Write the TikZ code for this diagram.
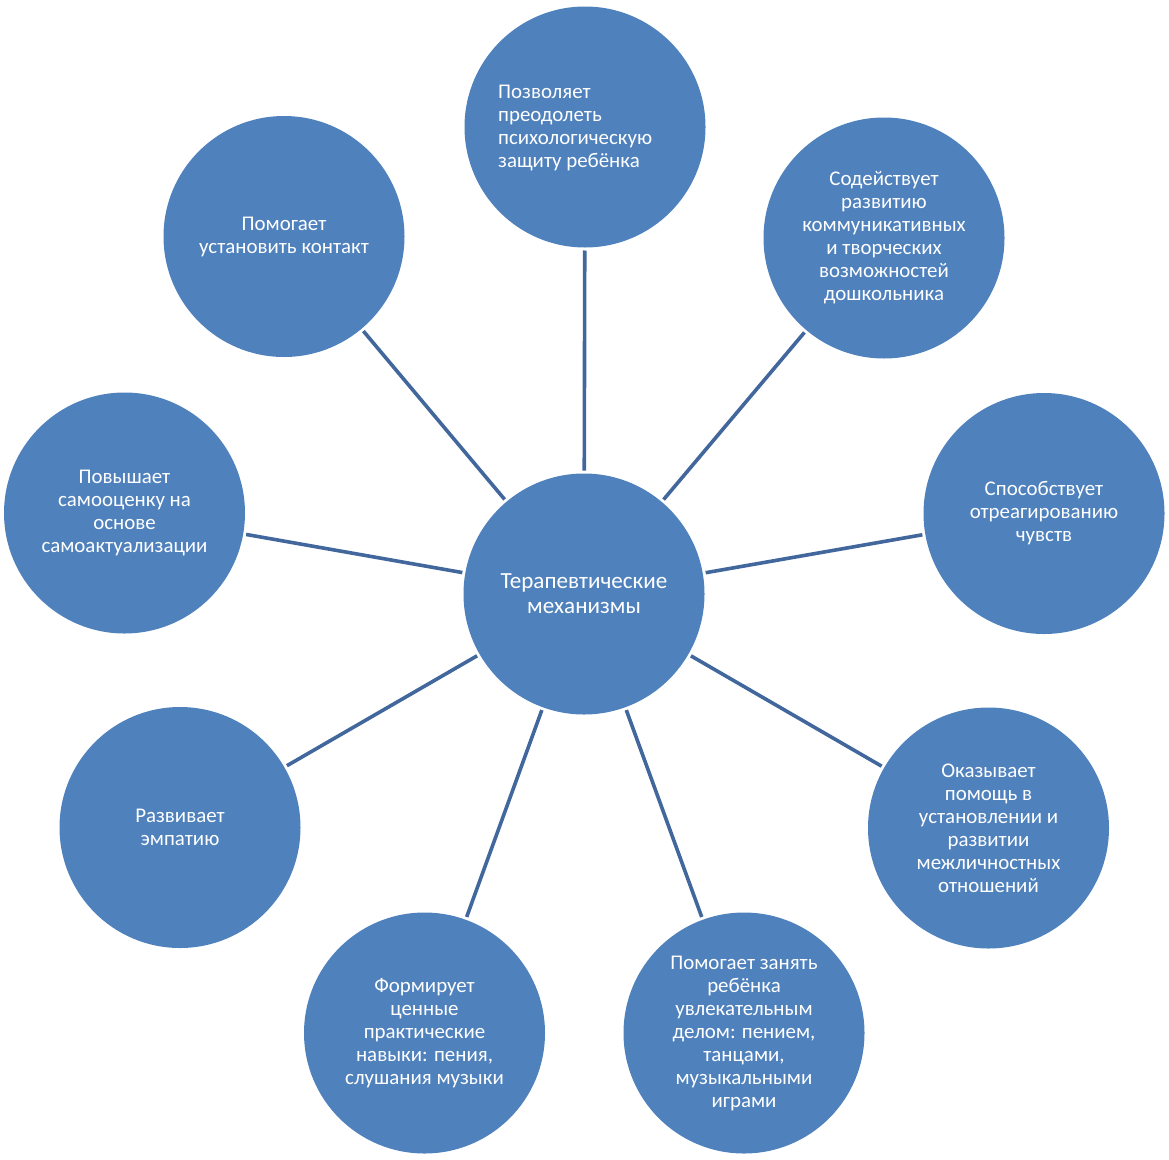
\documentclass[tikz,border=0pt]{standalone}
\usepackage{fontspec}
\setmainfont{Carlito}
\definecolor{bubble}{HTML}{4F81BD}
\definecolor{spoke}{HTML}{41679C}
\begin{document}
\begin{tikzpicture}[x=1pt,y=-1pt,
  bub/.style={circle,fill=bubble,draw=none,minimum size=241pt,inner sep=0pt,outer sep=0pt,
    text=white,align=center,font=\fontsize{20.9}{23}\selectfont},
  hub/.style={bub,font=\fontsize{23.1}{25}\selectfont},
  txt/.style={text=white,align=left,inner sep=0pt,font=\fontsize{20.9}{23}\selectfont},
  conn/.style={draw=spoke,line width=3.6pt,shorten <=3pt,shorten >=3pt}]
\useasboundingbox (0,0) rectangle (1169,1159);
\node[hub] (c) at (584,594) {Терапевтические\\механизмы};
\node[bub] (n1) at (585,127) {};
\node[txt,anchor=west] (n1t) at (498,128.5) {Позволяет\\преодолеть\\психологическую\\защиту ребёнка};
\node[bub] (n2) at (884,238) {Содействует\\развитию\\коммуникативных\\и творческих\\возможностей\\дошкольника};
\node[bub] (n3) at (1044,513.5) {Способствует\\отреагированию\\чувств};
\node[bub] (n4) at (988.5,828) {Оказывает\\помощь в\\установлении и\\развитии\\межличностных\\отношений};
\node[bub] (n5) at (744,1033) {Помогает занять\\ребёнка\\увлекательным\\делом: пением,\\танцами,\\музыкальными\\играми};
\node[bub] (n6) at (424.5,1033) {Формирует\\ценные\\практические\\навыки: пения,\\слушания музыки};
\node[bub] (n7) at (180,827.5) {Развивает\\эмпатию};
\node[bub] (n8) at (124.5,513) {Повышает\\самооценку на\\основе\\самоактуализации};
\node[bub] (n9) at (284,236.5) {Помогает\\установить контакт};
\foreach \n in {n1,n2,n3,n4,n5,n6,n7,n8,n9}
  \draw[conn] (\n) -- (c);
\end{tikzpicture}
\end{document}
